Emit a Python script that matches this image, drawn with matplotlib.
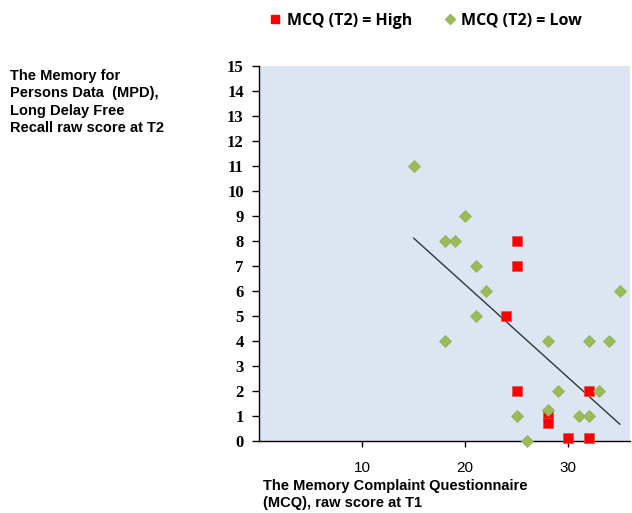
import matplotlib.pyplot as plt
from matplotlib.lines import Line2D

# MCQ (T2) = High
high_x = [25, 25, 24, 25, 32, 28, 28, 30, 32]
high_y = [8, 7, 5, 2, 2, 1, 0.72, 0.12, 0.12]

# MCQ (T2) = Low
low_x = [15, 20, 18, 19, 21, 22, 21, 35, 18, 28, 32, 34, 29, 33, 25, 28, 31, 32, 26]
low_y = [11, 9, 8, 8, 7, 6, 5, 6, 4, 4, 4, 4, 2, 2, 1, 1.24, 1, 1, 0]

# trend line end points
trend_x = [15, 35]
trend_y = [8.12, 0.68]

x_ticks = [10, 20, 30]
y_ticks = list(range(0, 16))

red = "#ff0000"
green = "#9bbb59"

fig = plt.figure(figsize=(6.32, 5.13), dpi=100)
ax = fig.add_axes([0.41, 0.14, 0.587, 0.731])
ax.set_facecolor("#dce6f2")

ax.plot(trend_x, trend_y, color="#333333", lw=1)
ax.plot(high_x, high_y, "s", color=red, markersize=6.5, markeredgecolor="#e05050",
        markeredgewidth=0.5, ls="none", clip_on=False, zorder=3)
ax.plot(low_x, low_y, "D", color=green, markersize=6, markeredgecolor="#8ab04a",
        markeredgewidth=0.5, ls="none", clip_on=False, zorder=3)

ax.set_xlim(0, 36)
ax.set_ylim(0, 15)
ax.set_xticks(x_ticks)
ax.set_yticks(y_ticks)
ax.set_yticklabels([str(v) for v in y_ticks], fontfamily="Liberation Serif",
                   fontweight="bold", fontsize=12)
ax.set_xticklabels([str(v) for v in x_ticks], fontfamily="Liberation Sans", fontsize=11)
ax.tick_params(axis="y", length=5, width=1, pad=6)
ax.tick_params(axis="x", length=4, width=1, pad=10, direction="out")

for s in ["top", "right"]:
    ax.spines[s].set_visible(False)
ax.spines["left"].set_linewidth(1)
ax.spines["bottom"].set_linewidth(1)

fig.text(0.016, 0.866, "The Memory for\nPersons Data  (MPD),\nLong Delay Free\nRecall raw score at T2",
         fontfamily="Liberation Sans", fontweight="bold", fontsize=10.5,
         va="top", ha="left", linespacing=1.32)
fig.text(0.416, 0.036, "The Memory Complaint Questionnaire\n(MCQ), raw score at T1",
         fontfamily="Liberation Sans", fontweight="bold", fontsize=10.5,
         va="center", ha="left", linespacing=1.2)

handles = [
    Line2D([], [], marker="s", color=red, ls="none", markersize=6),
    Line2D([], [], marker="D", color=green, ls="none", markersize=5),
]
fig.legend(handles, ["MCQ (T2) = High", "MCQ (T2) = Low"], loc="center",
           bbox_to_anchor=(0.671, 0.96), ncol=2, frameon=False,
           prop={"family": "Open Sans", "weight": "bold", "size": 11.5},
           handletextpad=0.1, columnspacing=1.8, handlelength=1.2)

fig.savefig("out.png", dpi=100)
